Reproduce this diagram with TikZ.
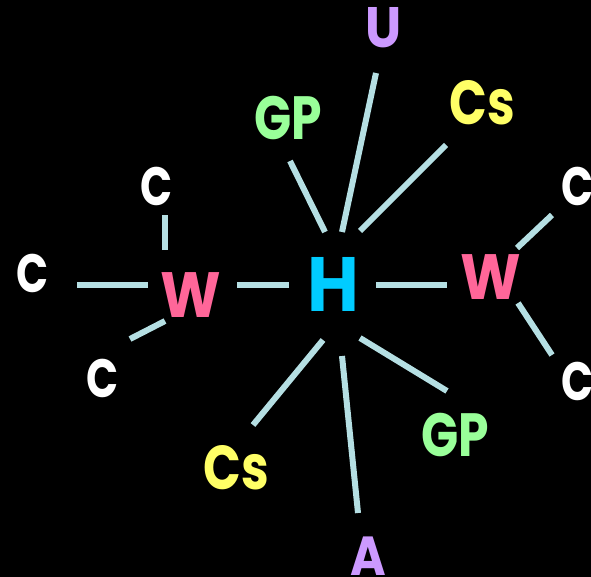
\documentclass[tikz,border=0pt]{standalone}
\usepackage{fontspec}
\usepackage{graphicx}
\setmainfont{Poppins}
\usetikzlibrary{calc}
\definecolor{bondc}{HTML}{B5DFE3}
\definecolor{hcol}{HTML}{00CCFF}
\definecolor{wcol}{HTML}{FF6699}
\definecolor{ucol}{HTML}{CC99FF}
\definecolor{cscol}{HTML}{FFFF66}
\definecolor{gpcol}{HTML}{99FF99}
\newcommand{\lab}[3]{\scalebox{#2}[1]{\bfseries\fontsize{#1}{#1}\selectfont #3}}
\begin{document}
\begin{tikzpicture}[x=1pt,y=-1pt,
  lbl/.style={inner sep=0pt,outer sep=0pt},
  bond/.style={draw=bondc,line width=6pt,line cap=butt}]
\fill[black] (0,0) rectangle (591,577);
\useasboundingbox (0,0) rectangle (591,577);
% atoms
\node[lbl,text=hcol] (H) at (333,284) {\lab{77}{0.92}{H}};
\node[lbl,text=wcol] (WL) at (191,295) {\lab{64}{0.9}{W}};
\node[lbl,text=wcol] (WR) at (491,277) {\lab{64}{0.9}{W}};
\node[lbl,text=white] (CL1) at (157,186) {\lab{54}{0.78}{C}};
\node[lbl,text=white] (CL2) at (33,273) {\lab{54}{0.78}{C}};
\node[lbl,text=white] (CL3) at (103,378) {\lab{54}{0.78}{C}};
\node[lbl,text=white] (CR1) at (578,186) {\lab{54}{0.78}{C}};
\node[lbl,text=white] (CR2) at (578,381) {\lab{54}{0.78}{C}};
\node[lbl,text=ucol] (U) at (384,28) {\lab{57}{0.9}{U}};
\node[lbl,text=ucol] (A) at (368,556) {\lab{55}{0.88}{A}};
\node[lbl,text=cscol] (CsT) at (482,103) {\lab{62}{0.8}{Cs}};
\node[lbl,text=cscol] (CsB) at (236,468) {\lab{62}{0.8}{Cs}};
\node[lbl,text=gpcol] (GPT) at (288,118) {\lab{61}{0.8}{GP}};
\node[lbl,text=gpcol] (GPB) at (455,435) {\lab{61}{0.8}{GP}};
% bonds
\draw[bond] ([shift={(-43,-10)}]WL.center) -- ([shift={(44,12)}]CL2.center);
\draw[bond] ([shift={(-26,-45)}]WL.center) -- ([shift={(8,29)}]CL1.center);
\draw[bond] ([shift={(-26,26)}]WL.center) -- ([shift={(27,-39)}]CL3.center);
\draw[bond] ([shift={(46,-10)}]WL.center) -- ([shift={(-44,1)}]H.center);
\draw[bond] ([shift={(43,1)}]H.center) -- ([shift={(-44,8)}]WR.center);
\draw[bond] ([shift={(26,-29)}]WR.center) -- ([shift={(-26,29)}]CR1.center);
\draw[bond] ([shift={(27,26)}]WR.center) -- ([shift={(-26,-26)}]CR2.center);
\draw[bond] ([shift={(-8,-52)}]H.center) -- ([shift={(2,43)}]GPT.center);
\draw[bond] ([shift={(9,-52)}]H.center) -- ([shift={(-8,45)}]U.center);
\draw[bond] ([shift={(27,-53)}]H.center) -- ([shift={(-36,42)}]CsT.center);
\draw[bond] ([shift={(-10,56)}]H.center) -- ([shift={(17,-43)}]CsB.center);
\draw[bond] ([shift={(9,72)}]H.center) -- ([shift={(-10,-43)}]A.center);
\draw[bond] ([shift={(27,54)}]H.center) -- ([shift={(-8,-44)}]GPB.center);
\end{tikzpicture}
\end{document}
